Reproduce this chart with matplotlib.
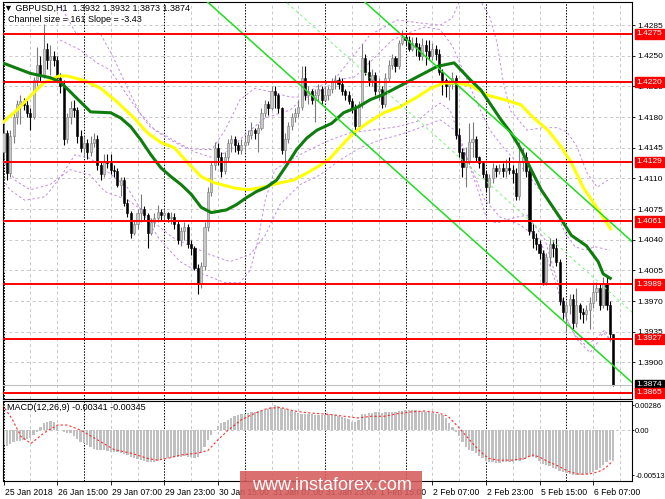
import matplotlib
matplotlib.use("Agg")
import matplotlib.pyplot as plt
import matplotlib.transforms as mtransforms
from matplotlib.patches import Rectangle
import numpy as np

# ---- GBPUSD H1 candles (bar 0 = 25 Jan 23:00) ----
opens = [
    1.4140, 1.4162, 1.4116, 1.4158, 1.4180, 1.4195, 1.4198, 1.4194, 1.4185, 1.4180,
    1.4222, 1.4240, 1.4228, 1.4258, 1.4245, 1.4250, 1.4245, 1.4225, 1.4215, 1.4155,
    1.4180, 1.4190, 1.4188, 1.4158, 1.4145, 1.4150, 1.4140, 1.4150, 1.4155, 1.4125,
    1.4115, 1.4130, 1.4128, 1.4120, 1.4118, 1.4103, 1.4108, 1.4082, 1.4070, 1.4048,
    1.4058, 1.4070, 1.4075, 1.4068, 1.4048, 1.4060, 1.4065, 1.4072, 1.4068, 1.4070,
    1.4065, 1.4066, 1.4058, 1.4040, 1.4050, 1.4055, 1.4035, 1.4030, 1.4008, 1.3990,
    1.4010, 1.4055, 1.4095, 1.4125, 1.4145, 1.4135, 1.4118, 1.4135, 1.4150, 1.4155,
    1.4148, 1.4143, 1.4148, 1.4152, 1.4160, 1.4165, 1.4162, 1.4168, 1.4185, 1.4195,
    1.4190, 1.4210, 1.4205, 1.4190, 1.4142, 1.4155, 1.4170, 1.4180, 1.4185, 1.4192,
    1.4225, 1.4205, 1.4210, 1.4200, 1.4205, 1.4212, 1.4200, 1.4205, 1.4212, 1.4220,
    1.4222, 1.4218, 1.4210, 1.4205, 1.4198, 1.4190, 1.4170, 1.4195, 1.4248, 1.4232,
    1.4222, 1.4228, 1.4210, 1.4212, 1.4195, 1.4225, 1.4240, 1.4248, 1.4238, 1.4265,
    1.4272, 1.4268, 1.4258, 1.4265, 1.4260, 1.4250, 1.4262, 1.4255, 1.4250, 1.4258,
    1.4252, 1.4232, 1.4222, 1.4215, 1.4218, 1.4225, 1.4160, 1.4140, 1.4123, 1.4130,
    1.4152, 1.4155, 1.4135, 1.4128, 1.4115, 1.4100, 1.4110, 1.4122, 1.4118, 1.4122,
    1.4118, 1.4122, 1.4120, 1.4116, 1.4090, 1.4130, 1.4135, 1.4118, 1.4050, 1.4042,
    1.4035, 1.4025, 1.3992, 1.4020, 1.4035, 1.4030, 1.4015, 1.3970, 1.3958, 1.3965,
    1.3972, 1.3945, 1.3965, 1.3958, 1.3955, 1.3960, 1.3968, 1.3980, 1.3985, 1.3965,
    1.3990, 1.3965, 1.3932]
highs = [
    1.4172, 1.4165, 1.4165, 1.4185, 1.4200, 1.4205, 1.4202, 1.4200, 1.4190, 1.4226,
    1.4260, 1.4250, 1.4286, 1.4265, 1.4262, 1.4255, 1.4250, 1.4230, 1.4222, 1.4185,
    1.4198, 1.4200, 1.4192, 1.4165, 1.4158, 1.4155, 1.4158, 1.4162, 1.4160, 1.4130,
    1.4138, 1.4138, 1.4138, 1.4125, 1.4122, 1.4112, 1.4112, 1.4086, 1.4073, 1.4062,
    1.4075, 1.4092, 1.4078, 1.4070, 1.4065, 1.4070, 1.4080, 1.4075, 1.4075, 1.4072,
    1.4072, 1.4070, 1.4062, 1.4055, 1.4060, 1.4058, 1.4040, 1.4033, 1.4012, 1.4015,
    1.4060, 1.4100, 1.4130, 1.4152, 1.4150, 1.4140, 1.4140, 1.4155, 1.4160, 1.4158,
    1.4152, 1.4155, 1.4158, 1.4165, 1.4175, 1.4168, 1.4172, 1.4190, 1.4200, 1.4198,
    1.4215, 1.4215, 1.4208, 1.4192, 1.4162, 1.4175, 1.4185, 1.4190, 1.4200, 1.4238,
    1.4238, 1.4215, 1.4212, 1.4212, 1.4218, 1.4215, 1.4215, 1.4215, 1.4225, 1.4228,
    1.4226, 1.4225, 1.4212, 1.4210, 1.4202, 1.4195, 1.4198, 1.4264, 1.4252, 1.4245,
    1.4235, 1.4232, 1.4225, 1.4215, 1.4230, 1.4245, 1.4252, 1.4250, 1.4268, 1.4280,
    1.4276, 1.4273, 1.4272, 1.4272, 1.4265, 1.4270, 1.4268, 1.4268, 1.4265, 1.4262,
    1.4258, 1.4235, 1.4225, 1.4222, 1.4232, 1.4228, 1.4168, 1.4145, 1.4146, 1.4173,
    1.4175, 1.4158, 1.4136, 1.4130, 1.4118, 1.4115, 1.4128, 1.4125, 1.4126, 1.4128,
    1.4132, 1.4135, 1.4125, 1.4122, 1.4152, 1.4145, 1.4140, 1.4122, 1.4058, 1.4048,
    1.4040, 1.4028, 1.4025, 1.4042, 1.4040, 1.4042, 1.4018, 1.3975, 1.3970, 1.3978,
    1.3978, 1.3985, 1.3968, 1.3962, 1.3966, 1.3975, 1.3990, 1.3992, 1.3990, 1.3997,
    1.3997, 1.3970, 1.3932]
lows = [
    1.4132, 1.4108, 1.4112, 1.4150, 1.4172, 1.4172, 1.4188, 1.4180, 1.4165, 1.4178,
    1.4215, 1.4220, 1.4225, 1.4235, 1.4228, 1.4238, 1.4220, 1.4208, 1.4148, 1.4150,
    1.4172, 1.4180, 1.4150, 1.4140, 1.4135, 1.4132, 1.4136, 1.4146, 1.4120, 1.4108,
    1.4112, 1.4122, 1.4115, 1.4112, 1.4100, 1.4090, 1.4078, 1.4066, 1.4042, 1.4045,
    1.4052, 1.4060, 1.4062, 1.4030, 1.4045, 1.4055, 1.4060, 1.4062, 1.4063, 1.4060,
    1.4058, 1.4052, 1.4035, 1.4033, 1.4040, 1.4030, 1.4022, 1.4005, 1.3978, 1.3985,
    1.4005, 1.4050, 1.4090, 1.4120, 1.4125, 1.4112, 1.4115, 1.4130, 1.4140, 1.4140,
    1.4138, 1.4138, 1.4140, 1.4148, 1.4155, 1.4155, 1.4140, 1.4165, 1.4180, 1.4182,
    1.4188, 1.4190, 1.4185, 1.4138, 1.4130, 1.4150, 1.4165, 1.4175, 1.4180, 1.4188,
    1.4200, 1.4195, 1.4195, 1.4175, 1.4198, 1.4195, 1.4198, 1.4200, 1.4208, 1.4212,
    1.4212, 1.4205, 1.4200, 1.4195, 1.4185, 1.4160, 1.4165, 1.4190, 1.4228, 1.4215,
    1.4215, 1.4205, 1.4200, 1.4190, 1.4192, 1.4220, 1.4235, 1.4232, 1.4235, 1.4262,
    1.4262, 1.4255, 1.4255, 1.4250, 1.4245, 1.4245, 1.4240, 1.4245, 1.4245, 1.4245,
    1.4228, 1.4205, 1.4203, 1.4200, 1.4212, 1.4155, 1.4135, 1.4112, 1.4100, 1.4126,
    1.4135, 1.4130, 1.4122, 1.4110, 1.4095, 1.4082, 1.4105, 1.4112, 1.4115, 1.4112,
    1.4112, 1.4115, 1.4105, 1.4085, 1.4085, 1.4118, 1.4112, 1.4045, 1.4030, 1.4028,
    1.4018, 1.3988, 1.3988, 1.4010, 1.4020, 1.4010, 1.3965, 1.3950, 1.3935, 1.3955,
    1.3938, 1.3940, 1.3950, 1.3945, 1.3948, 1.3938, 1.3962, 1.3970, 1.3960, 1.3962,
    1.3960, 1.3925, 1.3873]
closes = [
    1.4162, 1.4116, 1.4158, 1.4180, 1.4195, 1.4198, 1.4194, 1.4185, 1.4180, 1.4222,
    1.4240, 1.4228, 1.4258, 1.4245, 1.4250, 1.4245, 1.4225, 1.4215, 1.4155, 1.4180,
    1.4190, 1.4188, 1.4158, 1.4145, 1.4150, 1.4140, 1.4150, 1.4155, 1.4125, 1.4115,
    1.4130, 1.4128, 1.4120, 1.4118, 1.4103, 1.4108, 1.4082, 1.4070, 1.4048, 1.4058,
    1.4070, 1.4075, 1.4068, 1.4048, 1.4060, 1.4065, 1.4072, 1.4068, 1.4070, 1.4065,
    1.4066, 1.4058, 1.4040, 1.4050, 1.4055, 1.4035, 1.4030, 1.4008, 1.3990, 1.4010,
    1.4055, 1.4095, 1.4125, 1.4145, 1.4135, 1.4118, 1.4135, 1.4150, 1.4155, 1.4148,
    1.4143, 1.4148, 1.4152, 1.4160, 1.4165, 1.4162, 1.4168, 1.4185, 1.4195, 1.4190,
    1.4210, 1.4205, 1.4190, 1.4142, 1.4155, 1.4170, 1.4180, 1.4185, 1.4192, 1.4225,
    1.4205, 1.4210, 1.4200, 1.4205, 1.4212, 1.4200, 1.4205, 1.4212, 1.4220, 1.4222,
    1.4218, 1.4210, 1.4205, 1.4198, 1.4190, 1.4170, 1.4195, 1.4248, 1.4232, 1.4222,
    1.4228, 1.4210, 1.4212, 1.4195, 1.4225, 1.4240, 1.4248, 1.4238, 1.4265, 1.4272,
    1.4268, 1.4258, 1.4265, 1.4260, 1.4250, 1.4262, 1.4255, 1.4250, 1.4258, 1.4252,
    1.4232, 1.4222, 1.4215, 1.4218, 1.4225, 1.4160, 1.4140, 1.4123, 1.4130, 1.4152,
    1.4155, 1.4135, 1.4128, 1.4115, 1.4100, 1.4110, 1.4122, 1.4118, 1.4122, 1.4118,
    1.4122, 1.4120, 1.4116, 1.4090, 1.4130, 1.4135, 1.4118, 1.4050, 1.4042, 1.4035,
    1.4025, 1.3992, 1.4020, 1.4035, 1.4030, 1.4015, 1.3970, 1.3958, 1.3965, 1.3972,
    1.3945, 1.3965, 1.3958, 1.3955, 1.3960, 1.3968, 1.3980, 1.3985, 1.3965, 1.3990,
    1.3965, 1.3932, 1.3874]

# moving averages (bar index, price)
fast_ma_bar = [-1, 8, 14, 17, 21.5, 26, 32, 35, 38, 41, 44, 47, 50, 53, 56, 59, 62, 66.5,
               69.5, 72.5, 75.5, 78.5, 81.5, 84.5, 87.5, 90.5, 93.5, 98, 101.5, 106, 109.5,
               113.5, 117.5, 121.5, 125.5, 129.5, 134.5, 136.5, 139.5, 142.5, 145.5, 148.5,
               151.5, 154.5, 157.5, 160.5, 163.5, 166.5, 169.5, 174, 177.5, 179, 181.5]
fast_ma = [1.4243, 1.4230, 1.4225, 1.4220, 1.4203, 1.4186, 1.4185, 1.4179, 1.4169, 1.4154,
           1.4137, 1.4122, 1.4112, 1.4103, 1.4092, 1.4077, 1.4071, 1.4074, 1.4080, 1.4088,
           1.4095, 1.4100, 1.4108, 1.4125, 1.4143, 1.4156, 1.4165, 1.4173, 1.4185, 1.4192,
           1.4200, 1.4206, 1.4214, 1.4222, 1.4230, 1.4238, 1.4242, 1.4234, 1.4222, 1.4211,
           1.4194, 1.4177, 1.4162, 1.4143, 1.4120, 1.4097, 1.4080, 1.4063, 1.4045, 1.4033,
           1.4015, 1.4001, 1.3995]
slow_ma_bar = [-0.5, 4, 9, 12, 16.5, 19, 24, 29, 34, 39, 43, 47, 51, 55, 59, 63, 69, 73,
               77.5, 82.5, 86.5, 90.5, 94.5, 97.5, 101.5, 104.5, 108.5, 113.5, 118.5, 123.5,
               127.5, 131.5, 135.5, 139.5, 144.5, 149.5, 154.5, 158, 162.5, 166.5, 169.5,
               173, 177, 181.5]
slow_ma = [1.4173, 1.4188, 1.4208, 1.4219, 1.4227, 1.4227, 1.4222, 1.4213, 1.4197, 1.4179,
           1.4162, 1.4151, 1.4145, 1.4128, 1.4112, 1.4105, 1.4099, 1.4097, 1.4100, 1.4105,
           1.4108, 1.4116, 1.4125, 1.4133, 1.4150, 1.4162, 1.4173, 1.4185, 1.4192, 1.4203,
           1.4213, 1.4219, 1.4219, 1.4216, 1.4205, 1.4200, 1.4194, 1.4180, 1.4165, 1.4146,
           1.4128, 1.4100, 1.4077, 1.4051]

# envelope bands (purple dashed)
band_up1_bar = [-1, 16.0, 21.9, 28.8, 32.7, 36.9, 40.7, 45.2, 49.7, 54.2, 58.7, 62.2, 66.1,
                70.6, 75.1, 79.6, 85.5, 91.5, 97.5, 103.4, 109.4, 117.5, 123.4, 130.3, 133.9,
                136.3, 139.3, 142.2, 145.2, 147.3, 149.1, 151.2, 156.3, 161.0, 165.2, 168.2,
                171.2, 174.2, 177.2, 180.4]
band_up1 = [1.4330, 1.4314, 1.4274, 1.4276, 1.4249, 1.4214, 1.4185, 1.4165, 1.4154, 1.4145,
            1.4143, 1.4143, 1.4165, 1.4200, 1.4213, 1.4209, 1.4203, 1.4203, 1.4217, 1.4245,
            1.4274, 1.4291, 1.4288, 1.4285, 1.4293, 1.4314, 1.4340, 1.4314, 1.4294, 1.4265,
            1.4222, 1.4188, 1.4165, 1.4168, 1.4168, 1.4163, 1.4146, 1.4116, 1.4100, 1.4108]
band_lo1_bar = [-1, 1.9, 6.4, 12.4, 16.9, 21.3, 25.8, 30.3, 36.9, 42.8, 46.7, 52.7, 58.7,
                66.1, 70.6, 73.6, 76.0, 78.1, 81.0, 85.5, 91.5, 97.5, 103.4, 109.4, 117.5,
                123.4, 127.3, 130.3, 133.3, 137.2, 141.3, 144.3, 147.3, 150.3, 153.3, 156.3,
                161.6, 166.1, 168.2, 171.2, 175.1, 177.2, 179.0, 181.0]
band_lo1 = [1.4114, 1.4097, 1.4085, 1.4089, 1.4111, 1.4137, 1.4133, 1.4120, 1.4100, 1.4063,
            1.4040, 1.4015, 1.4002, 1.3991, 1.3991, 1.4005, 1.4040, 1.4085, 1.4120, 1.4131,
            1.4143, 1.4154, 1.4162, 1.4165, 1.4169, 1.4175, 1.4188, 1.4196, 1.4188, 1.4146,
            1.4100, 1.4063, 1.4059, 1.4063, 1.4066, 1.4068, 1.4040, 1.3983, 1.3948, 1.3926,
            1.3911, 1.3922, 1.3934, 1.3926]
band_up2_bar = [16.9, 22.8, 27.9, 31.8, 37.8, 43.7, 50.6, 57.2, 63.1, 67.6, 72.1, 78.1, 85.5,
                93.0, 99.0, 104.9, 110.0, 116.0, 120.7, 125.8, 130.3, 133.9, 137.8, 141.6,
                145.2, 149.7, 154.2, 160.1, 164.6, 167.6, 170.6, 173.6, 176.5, 181.0]
band_up2 = [1.4268, 1.4257, 1.4242, 1.4234, 1.4200, 1.4169, 1.4154, 1.4140, 1.4133, 1.4143,
            1.4160, 1.4179, 1.4188, 1.4214, 1.4222, 1.4226, 1.4245, 1.4268, 1.4276, 1.4283,
            1.4280, 1.4262, 1.4228, 1.4194, 1.4165, 1.4143, 1.4125, 1.4097, 1.4074, 1.4048,
            1.4032, 1.4028, 1.4032, 1.4028]
band_lo2_bar = [-1.0, 3.4, 7.9, 13.9, 19.9, 25.8, 30.3, 37.2, 41.3, 45.2, 50.3, 56.3, 61.6,
                67.6, 73.6, 78.1, 82.5, 88.5, 94.5, 100.4, 106.4, 112.4, 118.4, 124.3, 130.3,
                134.8, 139.3, 143.7, 148.2, 154.2, 160.1, 164.6, 167.6, 170.6, 173.6, 176.5,
                179.5, 181.6]
band_lo2 = [1.4137, 1.4108, 1.4097, 1.4103, 1.4120, 1.4114, 1.4095, 1.4085, 1.4074, 1.4059,
            1.4043, 1.4032, 1.4023, 1.4015, 1.4023, 1.4045, 1.4080, 1.4103, 1.4114, 1.4131,
            1.4145, 1.4154, 1.4160, 1.4168, 1.4177, 1.4165, 1.4125, 1.4085, 1.4066, 1.4057,
            1.4040, 1.3994, 1.3954, 1.3931, 1.3920, 1.3926, 1.3937, 1.3920]

# regression channel: size 161 pips, slope -3.43 pips/bar
channel_bar = 97.5
channel_low = 1.4186
channel_slope = -0.000343
channel_size = 0.0161

# levels
red_levels = [1.4275, 1.4220, 1.4129, 1.4061, 1.3989, 1.3927, 1.3865]
bid = 1.3874
price_ticks = [1.4285, 1.4250, 1.4215, 1.4180, 1.4145, 1.4110, 1.4075, 1.4040, 1.4005,
               1.3970, 1.3935, 1.3900]

# MACD(12,26,9)
macd_hist = [
    -0.0017, -0.0018, -0.0016, -0.0013, -0.0012, -0.0012, -0.0011, -0.0010, -0.0009, -0.0005,
    -0.0002, 0.0004, 0.0008, 0.0010, 0.0011, 0.0009, 0.0005, 0.0000, -0.0002, -0.0003,
    -0.0003, -0.0007, -0.0010, -0.0013, -0.0015, -0.0017, -0.0019, -0.0021, -0.0022, -0.0023,
    -0.0023, -0.0024, -0.0025, -0.0025, -0.0025, -0.0026, -0.0027, -0.0028, -0.0030, -0.0032,
    -0.0033, -0.0034, -0.0035, -0.0036, -0.0036, -0.0036, -0.0035, -0.0034, -0.0033, -0.0032,
    -0.0032, -0.0031, -0.0030, -0.0030, -0.0029, -0.0030, -0.0031, -0.0032, -0.0031, -0.0026,
    -0.0019, -0.0011, -0.0005, 0.0000, 0.0005, 0.0008, 0.0010, 0.0012, 0.0014, 0.0016,
    0.0017, 0.0019, 0.0019, 0.0020, 0.0021, 0.0021, 0.0022, 0.0022, 0.0023, 0.0024,
    0.0027, 0.00286, 0.0028, 0.0025, 0.0024, 0.0023, 0.0022, 0.0021, 0.0020, 0.0019,
    0.0019, 0.0019, 0.0019, 0.0018, 0.0017, 0.0017, 0.0018, 0.0019, 0.0017, 0.0017,
    0.0016, 0.0015, 0.0014, 0.0013, 0.0010, 0.0010, 0.0012, 0.0019, 0.0019, 0.0020,
    0.0020, 0.0021, 0.0021, 0.0020, 0.0021, 0.0021, 0.0021, 0.0021, 0.0022, 0.0022,
    0.0023, 0.0023, 0.0023, 0.0023, 0.0022, 0.0022, 0.0021, 0.0021, 0.0020, 0.0019,
    0.0019, 0.0017, 0.0014, 0.0008, 0.0004, -0.0002, -0.0007, -0.0013, -0.0019, -0.0022,
    -0.0024, -0.0026, -0.0029, -0.0032, -0.0035, -0.0036, -0.0036, -0.0037, -0.0037, -0.0036,
    -0.0036, -0.0036, -0.0036, -0.0035, -0.0035, -0.0034, -0.0032, -0.0030, -0.0030, -0.0032,
    -0.0035, -0.0038, -0.0040, -0.0041, -0.0043, -0.0044, -0.0046, -0.0047, -0.0049, -0.0050,
    -0.0051, -0.00513, -0.00513, -0.0051, -0.0050, -0.0049, -0.0047, -0.0045, -0.0043, -0.0040,
    -0.0036, -0.0034, -0.00341]
signal_bar = [-0.3, 2.7, 5.2, 8.2, 12.1, 16.1, 19.1, 23.1, 28.1, 33.0, 38.0, 43.0, 46.0, 49.0,
              53.0, 58.0, 61.0, 64.0, 67.0, 71.0, 74.8, 78.8, 82.8, 86.8, 90.7, 97.7, 101.7,
              105.7, 109.7, 113.7, 117.7, 121.7, 125.7, 129.7, 132.7, 135.7, 138.7, 141.7,
              144.7, 147.7, 151.7, 155.7, 157.7, 159.7, 162.7, 165.7, 168.7, 171.7, 174.7,
              177.7, 179.7, 182.0]
signal = [0.0029, 0.0012, -0.0007, -0.0015, -0.0003, 0.0006, 0.0006, 0.0000, -0.0011, -0.0022,
          -0.0026, -0.0032, -0.0034, -0.0032, -0.0028, -0.0026, -0.0023, -0.0011, 0.0000, 0.0012,
          0.0019, 0.0025, 0.0026, 0.0022, 0.0020, 0.0018, 0.0016, 0.0014, 0.0016, 0.0016,
          0.0019, 0.0021, 0.0022, 0.0020, 0.0016, 0.0004, -0.0009, -0.0022, -0.0032, -0.0034,
          -0.0034, -0.0032, -0.0028, -0.0030, -0.0036, -0.0041, -0.0047, -0.0050, -0.0050,
          -0.0047, -0.0043, -0.00345]
macd_ticks = [0.00286, 0.0, -0.00513]
macd_tick_labels = ['0.00286', '0.00', '-0.00513']

time_ticks = [0, 16, 32, 48, 64, 80, 96, 112, 128, 144, 160, 176]
time_labels = ['25 Jan 2018', '26 Jan 15:00', '29 Jan 07:00', '29 Jan 23:00', '30 Jan 15:00',
               '31 Jan 07:00', '31 Jan 23:00', '1 Feb 15:00', '2 Feb 07:00', '2 Feb 23:00',
               '5 Feb 15:00', '6 Feb 07:00']

# ---------------------------------------------------------------
plt.rcParams['font.family'] = ['Liberation Sans', 'DejaVu Sans']
plt.rcParams['axes.unicode_minus'] = False

W, H = 665, 499
fig = plt.figure(figsize=(W / 100, H / 100), dpi=100)
fig.patch.set_facecolor('white')


def box(l, t, r, b):
    return [l / W, 1 - b / H, (r - l) / W, (b - t) / H]


ax = fig.add_axes(box(3, 2, 632, 399))
axm = fig.add_axes(box(3, 401, 632, 481), sharex=ax)
ax.set_xlim(-0.15, 187.6)
ax.set_ylim(1.38581, 1.43115)
axm.set_ylim(-0.00578, 0.00334)

for a in (ax, axm):
    a.set_facecolor('white')
    for s in a.spines.values():
        s.set_color('black')
        s.set_linewidth(0.8)
    for k in range(0, 188, 8):
        if k % 24 == 0:
            a.axvline(k, color='black', lw=0.7, ls=(0, (1.5, 1.5)), zorder=1)
        else:
            a.axvline(k, color='#c8c8c8', lw=0.7, ls=(0, (3, 3)), zorder=1)

for t in price_ticks:
    ax.axhline(t, color='#c8c8c8', lw=0.7, ls=(0, (3, 3)), zorder=1)
axm.axhline(0, color='#c8c8c8', lw=0.7, ls=(0, (3, 3)), zorder=1)

# bands
for bx, by in ((band_up1_bar, band_up1), (band_lo1_bar, band_lo1),
               (band_up2_bar, band_up2), (band_lo2_bar, band_lo2)):
    ax.plot(bx, by, color='#c48ae8', lw=0.7, ls=(0, (2.5, 2.5)), zorder=2)

# candles
o = np.array(opens)
h = np.array(highs)
l = np.array(lows)
c = np.array(closes)
idx = np.arange(len(c))
up = c >= o
ax.vlines(idx[up], l[up], h[up], color='#7a7a7a', lw=0.8, zorder=3)
ax.vlines(idx[~up], l[~up], h[~up], color='black', lw=0.8, zorder=3)
body = np.maximum(np.abs(c - o), 0.00008)
ax.bar(idx[up], body[up], bottom=np.minimum(o, c)[up], width=0.62, color='#c8c8c8',
       edgecolor='#7a7a7a', lw=0.4, zorder=3.5)
ax.bar(idx[~up], body[~up], bottom=np.minimum(o, c)[~up], width=0.62, color='black',
       edgecolor='black', lw=0.4, zorder=3.5)

# moving averages
ax.plot(slow_ma_bar, slow_ma, color='#ffff00', lw=2.2, zorder=4, solid_capstyle='butt')
ax.plot(fast_ma_bar, fast_ma, color='#0e7d0e', lw=2.2, zorder=4.1, solid_capstyle='butt')

# channel
cx = np.array([-5.0, 195.0])
low_line = channel_low + channel_slope * (cx - channel_bar)
ax.plot(cx, low_line, color='#1fdd1f', lw=1.1, zorder=5)
ax.plot(cx, low_line + channel_size, color='#1fdd1f', lw=1.1, zorder=5)
ax.plot(cx, low_line + channel_size / 2, color='#7cf07c', lw=0.7, ls=(0, (3, 3)), zorder=5)

# horizontal levels
for lv in red_levels:
    ax.axhline(lv, color='#ff0000', lw=1.4, zorder=5)
ax.axhline(bid, color='#c0c0c0', lw=0.8, zorder=4.5)

# price axis
ax.yaxis.tick_right()
ax.set_yticks(price_ticks)
ax.set_yticklabels([f'{v:.4f}' for v in price_ticks])
ax.tick_params(axis='y', length=2.2, width=0.6, pad=1.5, labelsize=6, colors='black')
ax.tick_params(axis='x', bottom=False, labelbottom=False)

ytr = mtransforms.blended_transform_factory(ax.transAxes, ax.transData)
for lv in red_levels:
    ax.text(1.0 + 4.5 / 629, lv, f'{lv:.4f}', transform=ytr, ha='left', va='center',
            fontsize=6, color='white', zorder=10, clip_on=False,
            bbox=dict(boxstyle='square,pad=0.2', fc='#ff0000', ec='#ff0000'))
ax.text(1.0 + 4.5 / 629, bid + 0.00004, f'{bid:.4f}', transform=ytr, ha='left', va='center',
        fontsize=6, color='white', zorder=9, clip_on=False,
        bbox=dict(boxstyle='square,pad=0.2', fc='black', ec='black'))

# MACD
axm.bar(idx, macd_hist, width=0.7, color='#c0c0c0', zorder=2)
axm.plot(signal_bar, signal, color='#ff2a2a', lw=0.8, ls=(0, (2, 2)), zorder=3)
axm.yaxis.tick_right()
axm.set_yticks(macd_ticks)
axm.set_yticklabels(macd_tick_labels)
axm.tick_params(axis='y', length=1.5, width=0.6, pad=0.8, labelsize=5.4)
axm.set_xticks(time_ticks)
axm.set_xticklabels(time_labels)
axm.tick_params(axis='x', length=3, width=0.6, pad=2, labelsize=6.2)
shift = mtransforms.ScaledTranslation(1 / 100, 0, fig.dpi_scale_trans)
for lbl in axm.get_xticklabels():
    lbl.set_ha('left')
    lbl.set_transform(lbl.get_transform() + shift)

# captions
fig.text(4 / W, 1 - 8 / H, '\u25bc GBPUSD,H1  1.3932 1.3932 1.3873 1.3874', fontsize=6.5,
         va='center', ha='left', family=['Liberation Sans', 'DejaVu Sans'])
fig.text(8 / W, 1 - 19 / H, 'Channel size = 161 Slope = -3.43', fontsize=6.5,
         va='center', ha='left')
fig.text(7 / W, 1 - 408 / H, 'MACD(12,26,9) -0.00341 -0.00345', fontsize=6.5,
         va='center', ha='left')

# watermark
fig.patches.append(Rectangle((240 / W, 0), 182 / W, 28 / H, transform=fig.transFigure,
                             facecolor='#d65c5c', edgecolor='none', alpha=0.88, zorder=20))
fig.text(332 / W, 13 / H, 'www.instaforex.com', fontsize=13, color='white',
         ha='center', va='center', zorder=21)

fig.savefig('out.png', dpi=100)
